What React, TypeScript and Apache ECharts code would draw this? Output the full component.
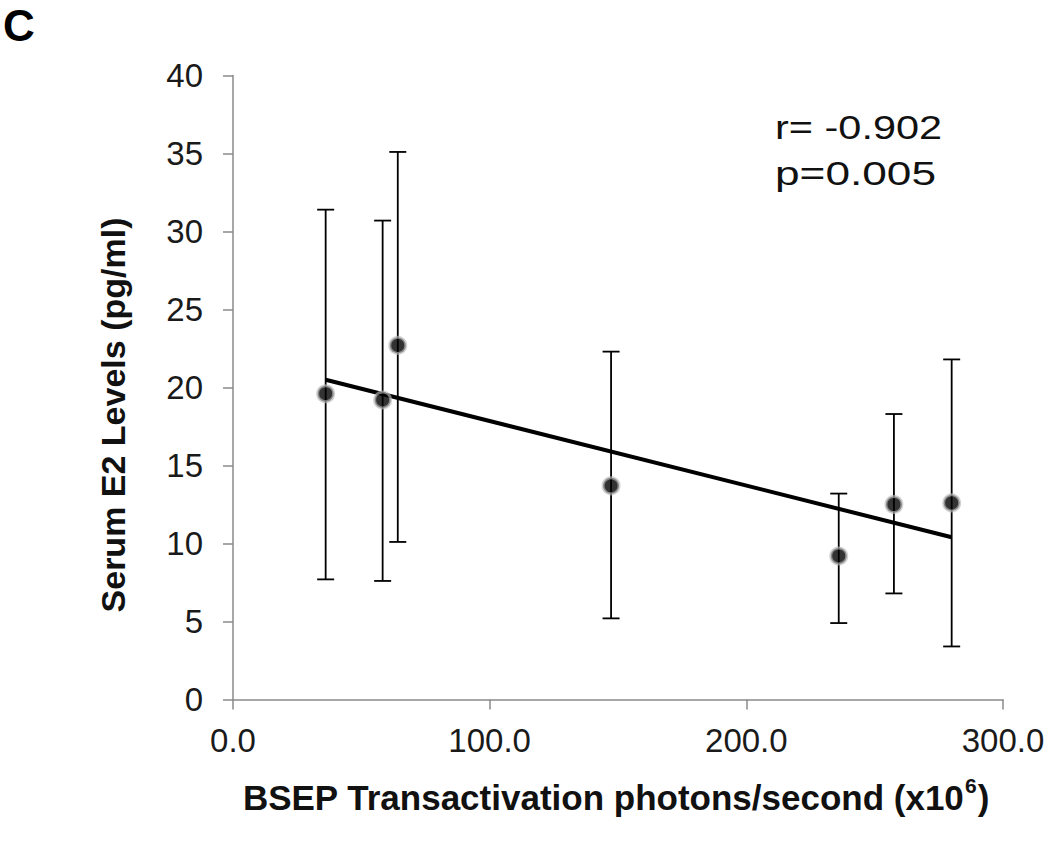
import React, { useEffect, useRef } from "react";
import * as echarts from "echarts";

const xValues = [36.1, 58.3, 64.2, 147.3, 236.0, 257.5, 280.0];
const meanValues = [19.6, 19.2, 22.7, 13.7, 9.2, 12.5, 12.6];
const upperValues = [31.4, 30.7, 35.1, 22.3, 13.2, 18.3, 21.8];
const lowerValues = [7.7, 7.6, 10.1, 5.2, 4.9, 6.8, 3.4];
const trendX = [36.1, 280.0];
const trendY = [20.5, 10.4];
const xTicks = [0, 100, 200, 300];
const yTicks = [0, 5, 10, 15, 20, 25, 30, 35, 40];

const FONT = "'Liberation Sans', Arial, sans-serif";

export default function App() {
  const ref = useRef<HTMLDivElement>(null);
  useEffect(() => {
    if (!ref.current) return;
    const chart = echarts.init(ref.current, null, { renderer: "svg" });
    const errData = xValues.map((x, i) => [x, lowerValues[i], upperValues[i]]);
    chart.setOption({
      animation: false,
      backgroundColor: "#ffffff",
      textStyle: { fontFamily: FONT },
      grid: { left: 233, right: 47, top: 75.5, bottom: 141.5 },
      xAxis: {
        type: "value",
        min: xTicks[0],
        max: xTicks[xTicks.length - 1],
        interval: 100,
        axisLine: { show: true, lineStyle: { color: "#8a8a8a", width: 1.5 } },
        axisTick: { show: true, length: 10, lineStyle: { color: "#8a8a8a", width: 1.5 } },
        splitLine: { show: false },
        axisLabel: {
          margin: 24,
          fontSize: 33,
          color: "#1a1a1a",
          fontFamily: FONT,
          formatter: (v: number) => v.toFixed(1),
        },
      },
      yAxis: {
        type: "value",
        min: yTicks[0],
        max: yTicks[yTicks.length - 1],
        interval: 5,
        axisLine: { show: true, lineStyle: { color: "#8a8a8a", width: 1.5 } },
        axisTick: { show: true, length: 10, lineStyle: { color: "#8a8a8a", width: 1.5 } },
        splitLine: { show: false },
        axisLabel: { margin: 30, fontSize: 33, color: "#1a1a1a", fontFamily: FONT },
      },
      graphic: [
        {
          type: "text",
          x: 3,
          y: 25,
          style: { text: "C", font: `bold 44px ${FONT}`, lineHeight: 44, fill: "#000", verticalAlign: "middle" },
        },
        {
          type: "text",
          x: 775,
          y: 127,
          scaleX: 1.22,
          style: { text: "r= -0.902", font: `34px ${FONT}`, fill: "#111", verticalAlign: "middle" },
        },
        {
          type: "text",
          x: 775,
          y: 173,
          scaleX: 1.3,
          style: { text: "p=0.005", font: `34px ${FONT}`, fill: "#111", verticalAlign: "middle" },
        },
        {
          type: "text",
          x: 113,
          y: 415,
          rotation: Math.PI / 2,
          style: {
            text: "Serum E2 Levels (pg/ml)",
            font: `bold 34px ${FONT}`,
            fill: "#111",
            align: "center",
            verticalAlign: "middle",
          },
        },
        {
          type: "text",
          x: 616,
          y: 795,
          style: {
            text: "{a|BSEP Transactivation photons/second (x10}{s|6}{a|)}",
            align: "center",
            verticalAlign: "middle",
            rich: {
              a: { font: `bold 35px ${FONT}`, fill: "#111", lineHeight: 40, verticalAlign: "bottom" },
              s: { font: `bold 21px ${FONT}`, fill: "#111", lineHeight: 40, verticalAlign: "top", padding: [0, 1, 0, 1] },
            },
          },
        },
      ],
      series: [
        {
          type: "custom",
          data: errData,
          z: 2,
          renderItem: (params: any, api: any) => {
            const x = api.value(0);
            const lo = api.coord([x, api.value(1)]);
            const hi = api.coord([x, api.value(2)]);
            const hw = 8.5;
            const style = { stroke: "#000", lineWidth: 1.8 };
            return {
              type: "group",
              children: [
                { type: "line", shape: { x1: lo[0], y1: lo[1], x2: hi[0], y2: hi[1] }, style },
                { type: "line", shape: { x1: hi[0] - hw, y1: hi[1], x2: hi[0] + hw, y2: hi[1] }, style },
                { type: "line", shape: { x1: lo[0] - hw, y1: lo[1], x2: lo[0] + hw, y2: lo[1] }, style },
              ],
            };
          },
        },
        {
          type: "line",
          data: trendX.map((x, i) => [x, trendY[i]]),
          showSymbol: false,
          symbol: "none",
          z: 3,
          lineStyle: { color: "#000", width: 4 },
        },
        {
          type: "scatter",
          data: xValues.map((x, i) => [x, meanValues[i]]),
          symbol: "circle",
          symbolSize: 16,
          z: 4,
          itemStyle: { color: "#000", borderColor: "rgba(185,185,185,0.8)", borderWidth: 3 },
        },
      ],
    });
    return () => chart.dispose();
  }, []);
  return <div ref={ref} style={{ width: 1050, height: 841, position: "absolute", left: 0, top: 0 }} />;
}
